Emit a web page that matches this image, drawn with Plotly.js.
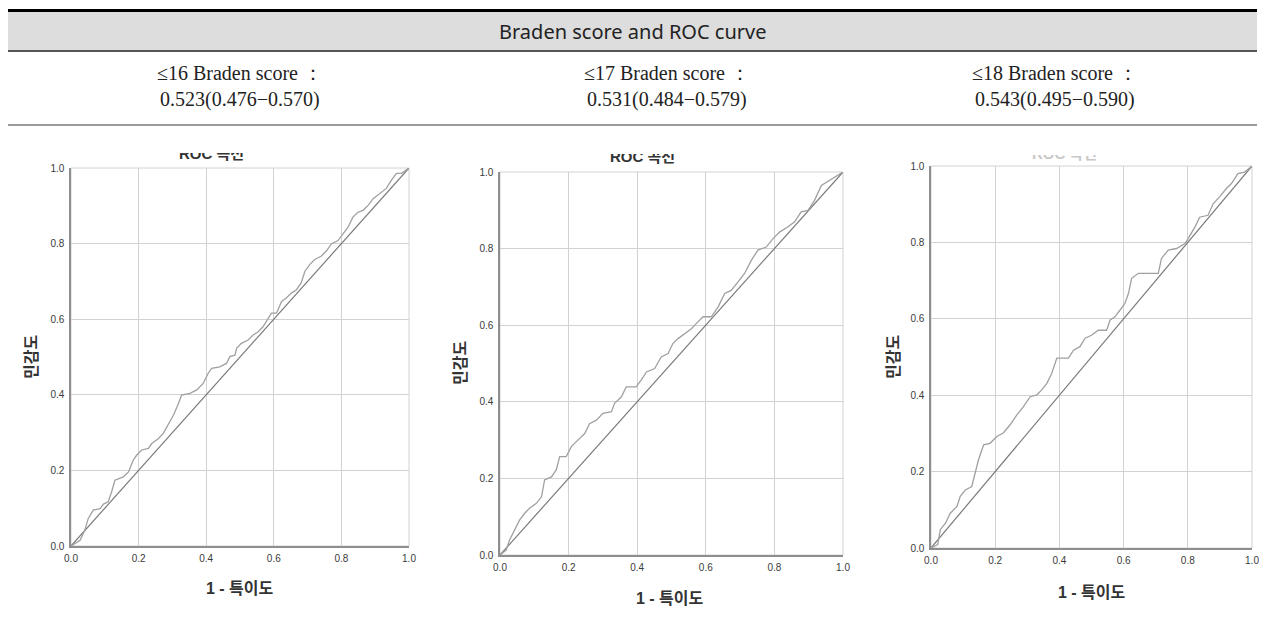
<!DOCTYPE html>
<html>
<head>
<meta charset="utf-8">
<script src="https://cdn.plot.ly/plotly-3.0.1.min.js"></script>
<style>html,body{margin:0;padding:0;background:#fff;}#chart{width:1265px;height:622px;}</style>
</head>
<body>
<div id="chart"></div>
<script>
// ---- data ----
const headerTitle = "Braden score and ROC curve";
const cutoffLabels = ["≤16 Braden score ：", "≤17 Braden score ：", "≤18 Braden score ："];
const aucLabels = ["0.523(0.476−0.570)", "0.531(0.484−0.579)", "0.543(0.495−0.590)"];
const plotTitle = "ROC 곡선";
const xTitle = "1 - 특이도";
const yTitle = "민감도";
const tickVals = [0, 0.2, 0.4, 0.6, 0.8, 1.0];
const tickLabels = ["0.0", "0.2", "0.4", "0.6", "0.8", "1.0"];
const refX = [0, 1];
const refY = [0, 1];

const fpr16 = [0,0.027,0.041,0.051,0.066,0.086,0.096,0.11,0.12,0.13,0.155,0.17,0.184,0.194,0.209,0.229,0.239,0.258,0.273,0.288,0.303,0.318,0.327,0.352,0.372,0.391,0.406,0.416,0.44,0.46,0.47,0.485,0.49,0.504,0.524,0.539,0.554,0.568,0.578,0.593,0.608,0.623,0.637,0.652,0.667,0.681,0.692,0.707,0.721,0.741,0.756,0.77,0.79,0.805,0.82,0.834,0.849,0.864,0.879,0.894,0.913,0.933,0.948,0.963,0.978,1];
const tpr16 = [0,0.015,0.042,0.073,0.095,0.099,0.111,0.117,0.143,0.174,0.183,0.196,0.227,0.24,0.254,0.258,0.271,0.284,0.298,0.324,0.346,0.377,0.399,0.404,0.413,0.43,0.457,0.47,0.474,0.483,0.501,0.505,0.523,0.536,0.545,0.558,0.567,0.58,0.594,0.616,0.616,0.647,0.656,0.669,0.678,0.696,0.727,0.745,0.758,0.767,0.781,0.799,0.808,0.826,0.844,0.87,0.883,0.888,0.901,0.919,0.932,0.946,0.968,0.986,0.986,1];

const fpr17 = [0,0.018,0.028,0.043,0.057,0.072,0.086,0.106,0.121,0.13,0.15,0.164,0.174,0.193,0.208,0.227,0.247,0.261,0.281,0.3,0.325,0.334,0.354,0.368,0.397,0.412,0.427,0.451,0.47,0.49,0.504,0.519,0.538,0.558,0.572,0.592,0.616,0.636,0.655,0.674,0.694,0.713,0.733,0.752,0.776,0.796,0.815,0.84,0.859,0.878,0.898,0.917,0.937,0.961,0.981,1];
const tpr17 = [0,0.013,0.039,0.065,0.091,0.109,0.122,0.135,0.152,0.196,0.204,0.222,0.257,0.257,0.283,0.3,0.317,0.343,0.352,0.37,0.374,0.396,0.413,0.439,0.439,0.457,0.478,0.487,0.517,0.526,0.552,0.565,0.578,0.591,0.604,0.622,0.622,0.648,0.683,0.691,0.713,0.735,0.77,0.796,0.804,0.826,0.843,0.857,0.87,0.896,0.9,0.926,0.965,0.978,0.991,1];

const fpr18 = [0,0.021,0.029,0.045,0.06,0.081,0.091,0.107,0.127,0.138,0.148,0.164,0.184,0.205,0.225,0.246,0.267,0.288,0.309,0.33,0.345,0.361,0.376,0.392,0.428,0.444,0.464,0.48,0.5,0.521,0.547,0.558,0.573,0.589,0.604,0.615,0.625,0.646,0.708,0.718,0.739,0.765,0.791,0.801,0.822,0.837,0.863,0.879,0.899,0.92,0.936,0.956,0.977,1];
const tpr18 = [0,0.009,0.048,0.065,0.091,0.109,0.135,0.152,0.161,0.196,0.231,0.27,0.274,0.292,0.301,0.322,0.348,0.37,0.396,0.401,0.414,0.431,0.457,0.497,0.497,0.518,0.527,0.549,0.557,0.57,0.57,0.597,0.605,0.623,0.64,0.666,0.706,0.719,0.719,0.758,0.78,0.784,0.797,0.81,0.84,0.866,0.871,0.901,0.919,0.941,0.954,0.98,0.984,1];

// ---- layout geometry (pixels) ----
const W = 1265, H = 622;
const px = v => v / W;
const py = v => 1 - v / H;

const panels = [
  {x0: 71,  x1: 409,  yT: 168, yB: 546, fpr: fpr16, tpr: tpr16},
  {x0: 500, x1: 843,  yT: 172, yB: 555, fpr: fpr17, tpr: tpr17},
  {x0: 931, x1: 1252, yT: 166, yB: 548, fpr: fpr18, tpr: tpr18}
];

const traces = [];
const layout = {
  width: W, height: H,
  margin: {l: 0, r: 0, t: 0, b: 0},
  paper_bgcolor: "#ffffff",
  plot_bgcolor: "#ffffff",
  showlegend: false,
  font: {family: "Liberation Sans, Arial, sans-serif", color: "#333"},
  shapes: [],
  annotations: []
};

panels.forEach((p, i) => {
  const n = i === 0 ? "" : String(i + 1);
  const xa = "x" + n, ya = "y" + n;
  traces.push({
    x: refX, y: refY, xaxis: xa, yaxis: ya, type: "scatter", mode: "lines",
    line: {color: "#7a7a7a", width: 1.2}, hoverinfo: "skip"
  });
  traces.push({
    x: p.fpr, y: p.tpr, xaxis: xa, yaxis: ya, type: "scatter", mode: "lines",
    line: {color: "#a0a0a0", width: 1.3}, hoverinfo: "skip"
  });
  const common = {
    range: [0, 1], tickmode: "array", tickvals: tickVals, ticktext: tickLabels,
    showgrid: true, gridcolor: "#d2d2d2", gridwidth: 1,
    showline: true, linecolor: "#8e8e8e", linewidth: 1.6,
    zeroline: false, ticks: "", fixedrange: true,
    tickfont: {family: "Liberation Sans, Arial, sans-serif", size: 10, color: "#3a3a3a"}
  };
  layout["xaxis" + n] = Object.assign({}, common, {
    domain: [px(p.x0), px(p.x1)], anchor: ya, ticklabelstandoff: 2
  });
  layout["yaxis" + n] = Object.assign({}, common, {
    domain: [py(p.yB), py(p.yT)], anchor: xa, ticklabelstandoff: 3
  });
  layout.shapes.push({type: "rect", xref: xa + " domain", yref: ya + " domain",
    x0: 0, x1: 1, y0: 0, y1: 1, line: {color: "#d2d2d2", width: 1}, layer: "below"});
});

// header table
layout.shapes.push({type: "rect", xref: "paper", yref: "paper", x0: px(8), x1: px(1257), y0: py(50.5), y1: py(11),
  fillcolor: "#dddddd", line: {width: 0}});
layout.shapes.push({type: "line", xref: "paper", yref: "paper", x0: px(8), x1: px(1257), y0: py(10.5), y1: py(10.5),
  line: {color: "#000000", width: 3}});
layout.shapes.push({type: "line", xref: "paper", yref: "paper", x0: px(8), x1: px(1257), y0: py(51), y1: py(51),
  line: {color: "#555555", width: 2}});
layout.shapes.push({type: "line", xref: "paper", yref: "paper", x0: px(8), x1: px(1257), y0: py(125), y1: py(125),
  line: {color: "#9a9a9a", width: 2}});

const ann = layout.annotations;
ann.push({xref: "paper", yref: "paper", x: px(632), y: py(31), text: headerTitle, showarrow: false,
  xanchor: "center", yanchor: "middle", font: {family: "Noto Sans, sans-serif", size: 20, color: "#222"}});

const colCenters = [240, 667, 1055];
colCenters.forEach((c, i) => {
  ann.push({xref: "paper", yref: "paper", x: px(c), y: py(73), text: cutoffLabels[i], showarrow: false,
    xanchor: "center", yanchor: "middle", font: {family: "Liberation Serif, DejaVu Serif, serif", size: 20, color: "#222"}});
  ann.push({xref: "paper", yref: "paper", x: px(c), y: py(100), text: aucLabels[i], showarrow: false,
    xanchor: "center", yanchor: "middle", font: {family: "Liberation Serif, DejaVu Serif, serif", size: 20, color: "#222"}});
});

// clipped panel titles
const titlePos = [{x: 211, base: 160, cut: 153, c: "#333"}, {x: 643, base: 163, cut: 154, c: "#333"}, {x: 1064, base: 160, cut: 155, c: "#c8c8c8"}];
titlePos.forEach(t => {
  ann.push({xref: "paper", yref: "paper", x: px(t.x), y: py(t.base + 4), text: "<b>" + plotTitle + "</b>", showarrow: false,
    xanchor: "center", yanchor: "bottom", font: {family: "Liberation Sans, Noto Sans CJK KR, sans-serif", size: 15, color: t.c}});
  ann.push({xref: "paper", yref: "paper", x: px(t.x), y: py(t.cut), text: " ", showarrow: false,
    xanchor: "center", yanchor: "bottom", width: 110, height: 26, bgcolor: "#ffffff", borderpad: 0, borderwidth: 0});
});

// axis titles
const xTitlePos = [[240, 588], [670, 598], [1092, 592]];
const yTitlePos = [[30, 357], [459, 363], [892, 357]];
xTitlePos.forEach(p => ann.push({xref: "paper", yref: "paper", x: px(p[0]), y: py(p[1]), text: "<b>" + xTitle + "</b>",
  showarrow: false, xanchor: "center", yanchor: "middle",
  font: {family: "Liberation Sans, Noto Sans CJK KR, sans-serif", size: 16, color: "#333"}}));
yTitlePos.forEach(p => ann.push({xref: "paper", yref: "paper", x: px(p[0]), y: py(p[1]), text: "<b>" + yTitle + "</b>",
  showarrow: false, xanchor: "center", yanchor: "middle", textangle: -90,
  font: {family: "Noto Sans CJK KR, sans-serif", size: 16, color: "#333"}}));

Plotly.newPlot("chart", traces, layout, {staticPlot: true, displayModeBar: false});
</script>
</body>
</html>
